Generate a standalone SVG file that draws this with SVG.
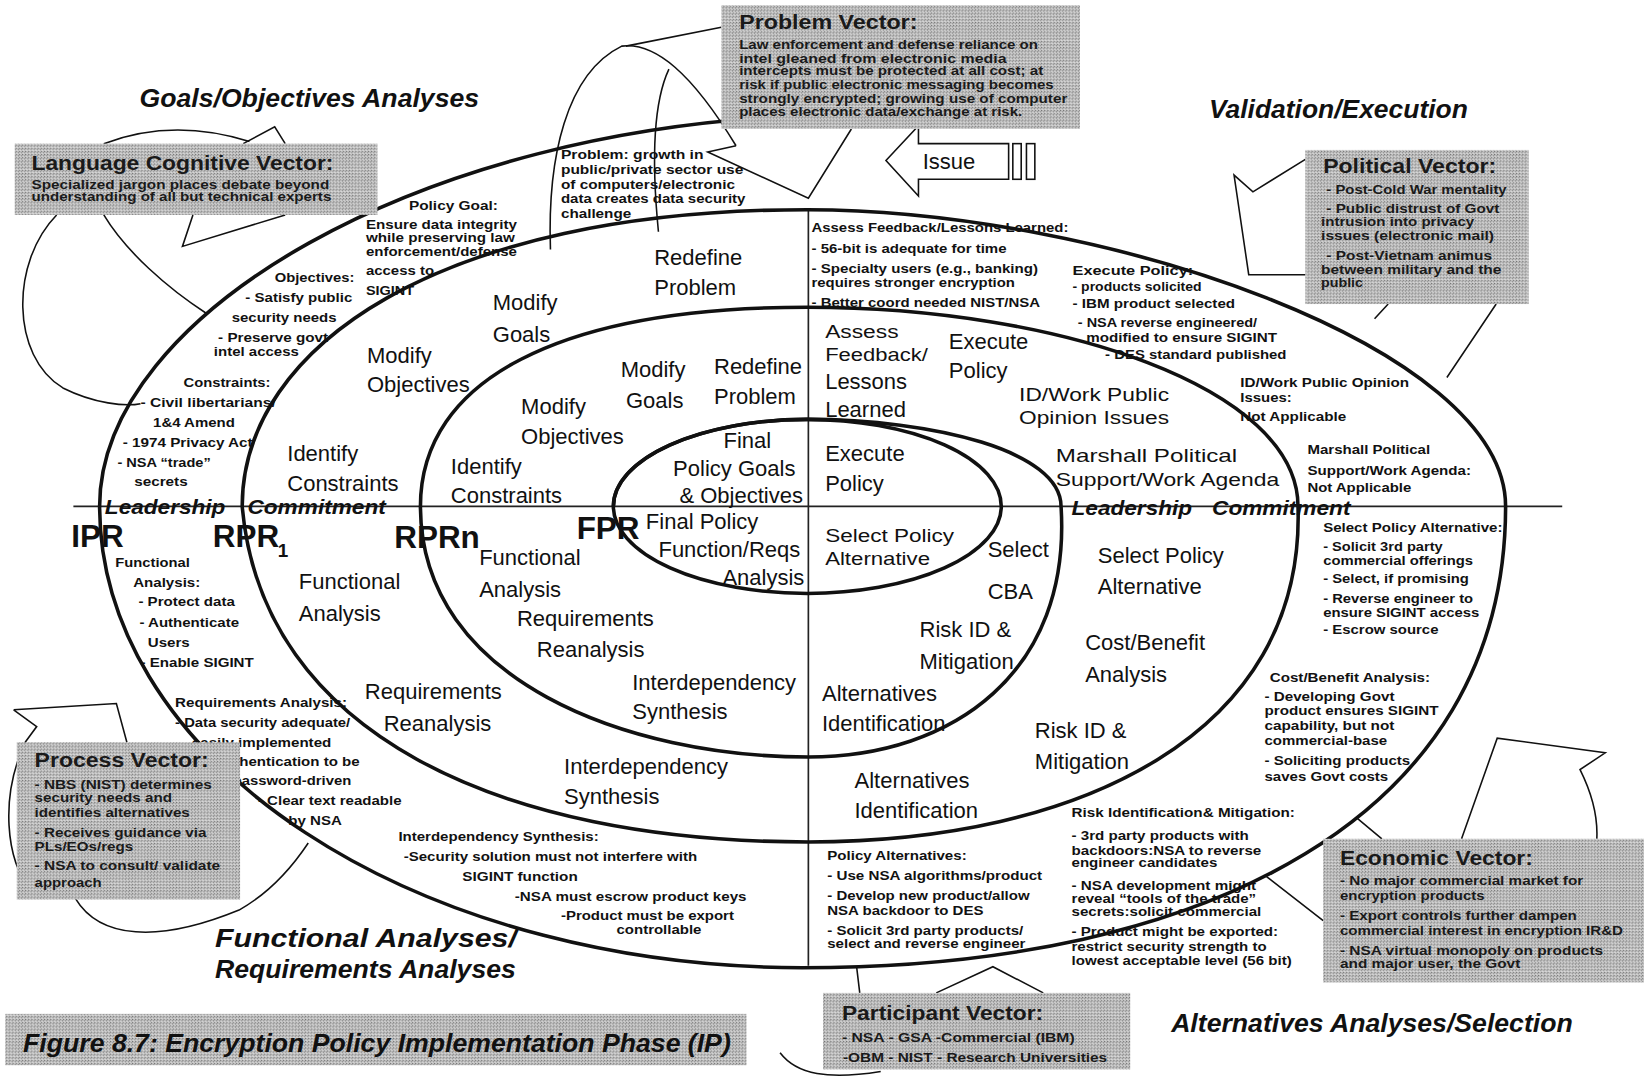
<svg xmlns="http://www.w3.org/2000/svg" width="1644" height="1083" viewBox="0 0 1644 1083">
<defs>
<pattern id="st" width="3" height="3" patternUnits="userSpaceOnUse">
<rect width="3" height="3" fill="#c4c4c4"/>
<rect width="1" height="1" fill="#727272"/>
<rect x="2" y="1" width="1" height="1" fill="#7e7e7e"/>
<rect x="1" y="2" width="1" height="1" fill="#e2e2e2"/>
</pattern>
</defs>
<style>
text{font-family:"Liberation Sans",Arial,Helvetica,sans-serif;fill:#111}
.ti{font-weight:bold;font-style:italic;font-size:25px}
.lc{font-weight:bold;font-style:italic;font-size:20px}
.lb{font-size:21px}
.ls{font-size:18px}
.nt{font-weight:bold;font-size:12.5px}
.vt{font-weight:bold;font-size:20px;fill:#1a1a1a}
.vn{font-weight:bold;font-size:12.5px;fill:#1a1a1a}
.pr{font-weight:bold;font-size:30px}
.sp{fill:none;stroke:#111;stroke-width:3.4}
.ax{fill:none;stroke:#222;stroke-width:1.6}
.co{fill:none;stroke:#111;stroke-width:1.5}
.bx{fill:url(#st)}
</style>
<rect width="1644" height="1083" fill="#fff"/>
<g transform="scale(1.04847)">
<g id="connectors">
<path class="ax" d="M70,483 H1490"/>
<path class="ax" d="M771,200 V921"/>
<path class="sp" d="M95,483 C95,300 400,120 780,110"/>
<path class="sp" d="M231,483 C231,330 420,200 770,200 C1050,200 1436,330 1436,483"/>
<path class="sp" d="M95,483 A670,440 0 0 0 765,923 C1150,923 1436,780 1436,483"/>
<path class="sp" d="M401,483 C401,362 534,293 770,293 C1010,293 1238,370 1238,483"/>
<path class="sp" d="M1238,483 C1245,700 1030,803 771,803 C477,803 250,700 231,483"/>
<path class="sp" d="M585,483 C585,437 668,400 770,400 C890,400 1012,430 1012,483"/>
<path class="sp" d="M1012,483 C1022,640 910,722 771,722 C600,722 401,650 401,483"/>
<ellipse class="sp" cx="770" cy="483" rx="185" ry="83"/>
<path class="co" d="M99,137 Q165,112 238,135 M232,137 L262,121 L272,137"/>
<path class="co" d="M54,205 C10,250 10,340 60,370 C90,385 120,388 134,385"/>
<path class="co" d="M99,205 C120,240 160,275 197,299"/>
<path class="co" d="M184,205 L174,235 L272,205"/>
<path class="co" d="M688,26 L597,44"/>
<path class="co" d="M525,238 C522,150 540,70 593,44 C625,40 660,70 702,139"/>
<path class="co" d="M628,221 C622,160 622,100 638,66"/>
<path class="co" d="M702,139 L675,145 L771,189 L812,123"/>
<path class="co" d="M1245,152 L1195,183 L1177,167 L1191,262 L1245,262"/>
<path class="co" d="M1324,290 L1311,304 M1427,290 L1380,360"/>
<path class="co" d="M13,677 L111,671 L121,708 M13,677 L35,693 L24,708"/>
<path class="co" d="M24,708 C0,760 5,820 30,850"/>
<path class="co" d="M72,857 C95,895 150,900 228,868 C260,850 280,825 294,804"/>
<path class="co" d="M1394,800 L1428,704 L1531,718 L1507,734 C1520,760 1524,780 1523,800"/>
<path class="co" d="M1208,836 L1262,878 M1294,780 L1318,800"/>
<path class="co" d="M817,922 L820,947 M893,947 L947,922 L995,947"/>
<path class="co" d="M744,1004 C760,1025 790,1030 840,1022"/>
<g id="issue-arrow">
<path class="co" fill="#fff" d="M845,153 L876,120 L876,137 L962,137 L962,171 L876,171 L876,187 Z"/>
<rect class="co" x="966" y="137" width="8" height="34"/>
<rect class="co" x="979" y="137" width="8" height="34"/>
<text class="lb" x="880" y="161">Issue</text>
</g>
</g>

<g id="titles">
<text class="ti" x="133" y="102" textLength="324" lengthAdjust="spacingAndGlyphs">Goals/Objectives Analyses</text>
<text class="ti" x="1153" y="113" textLength="247" lengthAdjust="spacingAndGlyphs">Validation/Execution</text>
<text class="ti" x="205" y="903" textLength="288" lengthAdjust="spacingAndGlyphs">Functional Analyses/</text>
<text class="ti" x="205" y="933" textLength="287" lengthAdjust="spacingAndGlyphs">Requirements Analyses</text>
<text class="ti" x="1117" y="984" textLength="383" lengthAdjust="spacingAndGlyphs">Alternatives Analyses/Selection</text>
</g>

<g id="reviews">
<text class="pr" x="68" y="522">IPR</text>
<text class="pr" x="203" y="522">RPR</text>
<text class="pr" x="265" y="531" style="font-size:18px">1</text>
<text class="pr" x="376" y="523">RPRn</text>
<text class="pr" x="550" y="514">FPR</text>
<text class="lc" x="100" y="490" textLength="115" lengthAdjust="spacingAndGlyphs">Leadership</text>
<text class="lc" x="236" y="490" textLength="132" lengthAdjust="spacingAndGlyphs">Commitment</text>
<text class="lc" x="1022" y="491" textLength="115" lengthAdjust="spacingAndGlyphs">Leadership</text>
<text class="lc" x="1156" y="491" textLength="132" lengthAdjust="spacingAndGlyphs">Commitment</text>
</g>

<g id="ring-labels">
<text class="lb" x="624" y="253">Redefine</text><text class="lb" x="624" y="281">Problem</text>
<text class="lb" x="470" y="296">Modify</text><text class="lb" x="470" y="326">Goals</text>
<text class="lb" x="350" y="346">Modify</text><text class="lb" x="350" y="374">Objectives</text>
<text class="lb" x="274" y="440">Identify</text><text class="lb" x="274" y="468">Constraints</text>
<text class="lb" x="592" y="360">Modify</text><text class="lb" x="597" y="389">Goals</text>
<text class="lb" x="681" y="357">Redefine</text><text class="lb" x="681" y="385">Problem</text>
<text class="lb" x="497" y="395">Modify</text><text class="lb" x="497" y="423">Objectives</text>
<text class="lb" x="430" y="452">Identify</text><text class="lb" x="430" y="480">Constraints</text>
<text class="lb" x="690" y="427">Final</text><text class="lb" x="642" y="454">Policy Goals</text><text class="lb" x="648" y="480">&amp; Objectives</text>
<text class="lb" x="616" y="505">Final Policy</text><text class="lb" x="628" y="531">Function/Reqs</text><text class="lb" x="689" y="558">Analysis</text>
<text class="ls" x="787" y="322" textLength="70" lengthAdjust="spacingAndGlyphs">Assess</text><text class="ls" x="787" y="344" textLength="98" lengthAdjust="spacingAndGlyphs">Feedback/</text><text class="lb" x="787" y="371">Lessons</text><text class="lb" x="787" y="398">Learned</text>
<text class="lb" x="905" y="333">Execute</text><text class="lb" x="905" y="361">Policy</text>
<text class="ls" x="972" y="382" textLength="143" lengthAdjust="spacingAndGlyphs">ID/Work Public</text><text class="ls" x="972" y="404" textLength="143" lengthAdjust="spacingAndGlyphs">Opinion Issues</text>
<text class="ls" x="1007" y="441" textLength="173" lengthAdjust="spacingAndGlyphs">Marshall Political</text><text class="ls" x="1007" y="464" textLength="213" lengthAdjust="spacingAndGlyphs">Support/Work Agenda</text>
<text class="lb" x="787" y="440">Execute</text><text class="lb" x="787" y="468">Policy</text>
<text class="ls" x="787" y="517" textLength="123" lengthAdjust="spacingAndGlyphs">Select Policy</text><text class="ls" x="787" y="539" textLength="100" lengthAdjust="spacingAndGlyphs">Alternative</text>
<text class="lb" x="942" y="531">Select</text><text class="lb" x="942" y="571">CBA</text>
<text class="lb" x="1047" y="537">Select Policy</text><text class="lb" x="1047" y="567">Alternative</text>
<text class="lb" x="285" y="562">Functional</text><text class="lb" x="285" y="592">Analysis</text>
<text class="lb" x="457" y="539">Functional</text><text class="lb" x="457" y="569">Analysis</text>
<text class="lb" x="493" y="597">Requirements</text><text class="lb" x="512" y="627">Reanalysis</text>
<text class="lb" x="348" y="667">Requirements</text><text class="lb" x="366" y="697">Reanalysis</text>
<text class="lb" x="603" y="658">Interdependency</text><text class="lb" x="603" y="686">Synthesis</text>
<text class="lb" x="538" y="738">Interdependency</text><text class="lb" x="538" y="767">Synthesis</text>
<text class="lb" x="877" y="608">Risk ID &amp;</text><text class="lb" x="877" y="638">Mitigation</text>
<text class="lb" x="1035" y="620">Cost/Benefit</text><text class="lb" x="1035" y="650">Analysis</text>
<text class="lb" x="784" y="669">Alternatives</text><text class="lb" x="784" y="697">Identification</text>
<text class="lb" x="987" y="704">Risk ID &amp;</text><text class="lb" x="987" y="733">Mitigation</text>
<text class="lb" x="815" y="752">Alternatives</text><text class="lb" x="815" y="780">Identification</text>
</g>

<g id="notes-goals">
<text class="nt" x="390" y="200" textLength="85" lengthAdjust="spacingAndGlyphs">Policy Goal:</text>
<text class="nt" x="349" y="218" textLength="144" lengthAdjust="spacingAndGlyphs">Ensure data integrity</text>
<text class="nt" x="349" y="231" textLength="142" lengthAdjust="spacingAndGlyphs">while preserving law</text>
<text class="nt" x="349" y="244" textLength="144" lengthAdjust="spacingAndGlyphs">enforcement/defense</text>
<text class="nt" x="349" y="262" textLength="65" lengthAdjust="spacingAndGlyphs">access to</text>
<text class="nt" x="349" y="281" textLength="46" lengthAdjust="spacingAndGlyphs">SIGINT</text>
<text class="nt" x="262" y="269" textLength="76" lengthAdjust="spacingAndGlyphs">Objectives:</text>
<text class="nt" x="234" y="288" textLength="102" lengthAdjust="spacingAndGlyphs">- Satisfy public</text>
<text class="nt" x="221" y="307" textLength="100" lengthAdjust="spacingAndGlyphs">security needs</text>
<text class="nt" x="208" y="326" textLength="105" lengthAdjust="spacingAndGlyphs">- Preserve govt</text>
<text class="nt" x="204" y="340" textLength="81" lengthAdjust="spacingAndGlyphs">intel access</text>
<text class="nt" x="175" y="369" textLength="83" lengthAdjust="spacingAndGlyphs">Constraints:</text>
<text class="nt" x="134" y="388" textLength="129" lengthAdjust="spacingAndGlyphs">- Civil libertarians/</text>
<text class="nt" x="146" y="407" textLength="78" lengthAdjust="spacingAndGlyphs">1&amp;4 Amend</text>
<text class="nt" x="117" y="426" textLength="124" lengthAdjust="spacingAndGlyphs">- 1974 Privacy Act</text>
<text class="nt" x="112" y="445" textLength="89" lengthAdjust="spacingAndGlyphs">- NSA “trade”</text>
<text class="nt" x="128" y="464" textLength="51" lengthAdjust="spacingAndGlyphs">secrets</text>
<text class="nt" x="535" y="152" textLength="136" lengthAdjust="spacingAndGlyphs">Problem: growth in</text>
<text class="nt" x="535" y="166" textLength="174" lengthAdjust="spacingAndGlyphs">public/private sector use</text>
<text class="nt" x="535" y="180" textLength="166" lengthAdjust="spacingAndGlyphs">of computers/electronic</text>
<text class="nt" x="535" y="194" textLength="176" lengthAdjust="spacingAndGlyphs">data creates data security</text>
<text class="nt" x="535" y="208" textLength="67" lengthAdjust="spacingAndGlyphs">challenge</text>
</g>

<g id="notes-validation">
<text class="nt" x="774" y="221" textLength="245" lengthAdjust="spacingAndGlyphs">Assess Feedback/Lessons Learned:</text>
<text class="nt" x="774" y="241" textLength="186" lengthAdjust="spacingAndGlyphs">- 56-bit is adequate for time</text>
<text class="nt" x="774" y="260" textLength="216" lengthAdjust="spacingAndGlyphs">- Specialty users (e.g., banking)</text>
<text class="nt" x="774" y="274" textLength="194" lengthAdjust="spacingAndGlyphs">requires stronger encryption</text>
<text class="nt" x="774" y="293" textLength="218" lengthAdjust="spacingAndGlyphs">- Better coord needed NIST/NSA</text>
<text class="nt" x="1023" y="262" textLength="115" lengthAdjust="spacingAndGlyphs">Execute Policy:</text>
<text class="nt" x="1023" y="278" textLength="123" lengthAdjust="spacingAndGlyphs">- products solicited</text>
<text class="nt" x="1023" y="294" textLength="155" lengthAdjust="spacingAndGlyphs">- IBM product selected</text>
<text class="nt" x="1028" y="312" textLength="171" lengthAdjust="spacingAndGlyphs">- NSA reverse engineered/</text>
<text class="nt" x="1036" y="326" textLength="182" lengthAdjust="spacingAndGlyphs">modified to ensure SIGINT</text>
<text class="nt" x="1054" y="342" textLength="173" lengthAdjust="spacingAndGlyphs">- DES standard published</text>
<text class="nt" x="1183" y="369" textLength="161" lengthAdjust="spacingAndGlyphs">ID/Work Public Opinion</text>
<text class="nt" x="1183" y="383" textLength="49" lengthAdjust="spacingAndGlyphs">Issues:</text>
<text class="nt" x="1183" y="402" textLength="101" lengthAdjust="spacingAndGlyphs">Not Applicable</text>
<text class="nt" x="1247" y="433" textLength="117" lengthAdjust="spacingAndGlyphs">Marshall Political</text>
<text class="nt" x="1247" y="453" textLength="156" lengthAdjust="spacingAndGlyphs">Support/Work Agenda:</text>
<text class="nt" x="1247" y="469" textLength="99" lengthAdjust="spacingAndGlyphs">Not Applicable</text>
</g>

<g id="notes-alternatives">
<text class="nt" x="1262" y="507" textLength="171" lengthAdjust="spacingAndGlyphs">Select Policy Alternative:</text>
<text class="nt" x="1262" y="526" textLength="114" lengthAdjust="spacingAndGlyphs">- Solicit 3rd party</text>
<text class="nt" x="1262" y="539" textLength="143" lengthAdjust="spacingAndGlyphs">commercial offerings</text>
<text class="nt" x="1262" y="556" textLength="139" lengthAdjust="spacingAndGlyphs">- Select, if promising</text>
<text class="nt" x="1262" y="575" textLength="143" lengthAdjust="spacingAndGlyphs">- Reverse engineer to</text>
<text class="nt" x="1262" y="588" textLength="149" lengthAdjust="spacingAndGlyphs">ensure SIGINT access</text>
<text class="nt" x="1262" y="605" textLength="110" lengthAdjust="spacingAndGlyphs">- Escrow source</text>
<text class="nt" x="1211" y="650" textLength="153" lengthAdjust="spacingAndGlyphs">Cost/Benefit Analysis:</text>
<text class="nt" x="1206" y="669" textLength="124" lengthAdjust="spacingAndGlyphs">- Developing Govt</text>
<text class="nt" x="1206" y="682" textLength="166" lengthAdjust="spacingAndGlyphs">product ensures SIGINT</text>
<text class="nt" x="1206" y="696" textLength="124" lengthAdjust="spacingAndGlyphs">capability, but not</text>
<text class="nt" x="1206" y="711" textLength="117" lengthAdjust="spacingAndGlyphs">commercial-base</text>
<text class="nt" x="1206" y="730" textLength="139" lengthAdjust="spacingAndGlyphs">- Soliciting products</text>
<text class="nt" x="1206" y="745" textLength="118" lengthAdjust="spacingAndGlyphs">saves Govt costs</text>
<text class="nt" x="1022" y="779" textLength="213" lengthAdjust="spacingAndGlyphs">Risk Identification&amp; Mitigation:</text>
<text class="nt" x="1022" y="801" textLength="169" lengthAdjust="spacingAndGlyphs">- 3rd party products with</text>
<text class="nt" x="1022" y="815" textLength="181" lengthAdjust="spacingAndGlyphs">backdoors:NSA to reverse</text>
<text class="nt" x="1022" y="827" textLength="139" lengthAdjust="spacingAndGlyphs">engineer candidates</text>
<text class="nt" x="1022" y="849" textLength="176" lengthAdjust="spacingAndGlyphs">- NSA development might</text>
<text class="nt" x="1022" y="861" textLength="176" lengthAdjust="spacingAndGlyphs">reveal “tools of the trade”</text>
<text class="nt" x="1022" y="874" textLength="181" lengthAdjust="spacingAndGlyphs">secrets:solicit commercial</text>
<text class="nt" x="1022" y="893" textLength="197" lengthAdjust="spacingAndGlyphs">- Product might be exported:</text>
<text class="nt" x="1022" y="907" textLength="186" lengthAdjust="spacingAndGlyphs">restrict security strength to</text>
<text class="nt" x="1022" y="920" textLength="210" lengthAdjust="spacingAndGlyphs">lowest acceptable level (56 bit)</text>
<text class="nt" x="789" y="820" textLength="133" lengthAdjust="spacingAndGlyphs">Policy Alternatives:</text>
<text class="nt" x="789" y="839" textLength="205" lengthAdjust="spacingAndGlyphs">- Use NSA algorithms/product</text>
<text class="nt" x="789" y="858" textLength="193" lengthAdjust="spacingAndGlyphs">- Develop new product/allow</text>
<text class="nt" x="789" y="873" textLength="149" lengthAdjust="spacingAndGlyphs">NSA backdoor to DES</text>
<text class="nt" x="789" y="892" textLength="187" lengthAdjust="spacingAndGlyphs">- Solicit 3rd party products/</text>
<text class="nt" x="789" y="904" textLength="189" lengthAdjust="spacingAndGlyphs">select and reverse engineer</text>
</g>

<g id="notes-functional">
<text class="nt" x="110" y="541" textLength="71" lengthAdjust="spacingAndGlyphs">Functional</text>
<text class="nt" x="127" y="560" textLength="64" lengthAdjust="spacingAndGlyphs">Analysis:</text>
<text class="nt" x="132" y="578" textLength="92" lengthAdjust="spacingAndGlyphs">- Protect data</text>
<text class="nt" x="133" y="598" textLength="95" lengthAdjust="spacingAndGlyphs">- Authenticate</text>
<text class="nt" x="141" y="617" textLength="40" lengthAdjust="spacingAndGlyphs">Users</text>
<text class="nt" x="134" y="636" textLength="108" lengthAdjust="spacingAndGlyphs">- Enable SIGINT</text>
<text class="nt" x="167" y="674" textLength="164" lengthAdjust="spacingAndGlyphs">Requirements Analysis:</text>
<text class="nt" x="167" y="693" textLength="167" lengthAdjust="spacingAndGlyphs">- Data security adequate/</text>
<text class="nt" x="183" y="712" textLength="133" lengthAdjust="spacingAndGlyphs">easily implemented</text>
<text class="nt" x="196" y="731" textLength="147" lengthAdjust="spacingAndGlyphs">- Authentication to be</text>
<text class="nt" x="222" y="749" textLength="113" lengthAdjust="spacingAndGlyphs">password-driven</text>
<text class="nt" x="246" y="768" textLength="137" lengthAdjust="spacingAndGlyphs">- Clear text readable</text>
<text class="nt" x="275" y="787" textLength="51" lengthAdjust="spacingAndGlyphs">by NSA</text>
<text class="nt" x="380" y="802" textLength="191" lengthAdjust="spacingAndGlyphs">Interdependency Synthesis:</text>
<text class="nt" x="385" y="821" textLength="280" lengthAdjust="spacingAndGlyphs">-Security solution must not interfere with</text>
<text class="nt" x="441" y="840" textLength="110" lengthAdjust="spacingAndGlyphs">SIGINT function</text>
<text class="nt" x="491" y="859" textLength="221" lengthAdjust="spacingAndGlyphs">-NSA must escrow product keys</text>
<text class="nt" x="535" y="877" textLength="165" lengthAdjust="spacingAndGlyphs">-Product must be export</text>
<text class="nt" x="588" y="891" textLength="81" lengthAdjust="spacingAndGlyphs">controllable</text>
</g>

<g id="language-vector">
<rect class="bx" x="14" y="137" width="346" height="68"/>
<text class="vt" x="30" y="162" textLength="288" lengthAdjust="spacingAndGlyphs">Language Cognitive Vector:</text>
<text class="vn" x="30" y="180" textLength="284" lengthAdjust="spacingAndGlyphs">Specialized jargon places debate beyond</text>
<text class="vn" x="30" y="192" textLength="286" lengthAdjust="spacingAndGlyphs">understanding of all but technical experts</text>
</g>

<g id="problem-vector">
<rect class="bx" x="688" y="5" width="342" height="118"/>
<text class="vt" x="705" y="28" textLength="170" lengthAdjust="spacingAndGlyphs">Problem Vector:</text>
<text class="vn" x="705" y="47" textLength="285" lengthAdjust="spacingAndGlyphs">Law enforcement and defense reliance on</text>
<text class="vn" x="705" y="60" textLength="255" lengthAdjust="spacingAndGlyphs">intel gleaned from electronic media</text>
<text class="vn" x="705" y="72" textLength="290" lengthAdjust="spacingAndGlyphs">intercepts must be protected at all cost; at</text>
<text class="vn" x="705" y="85" textLength="300" lengthAdjust="spacingAndGlyphs">risk if public electronic messaging becomes</text>
<text class="vn" x="705" y="98" textLength="313" lengthAdjust="spacingAndGlyphs">strongly encrypted; growing use of computer</text>
<text class="vn" x="705" y="111" textLength="270" lengthAdjust="spacingAndGlyphs">places electronic data/exchange at risk.</text>
</g>

<g id="political-vector">
<rect class="bx" x="1245" y="143" width="213" height="147"/>
<text class="vt" x="1262" y="165" textLength="165" lengthAdjust="spacingAndGlyphs">Political Vector:</text>
<text class="vn" x="1265" y="185" textLength="172" lengthAdjust="spacingAndGlyphs">- Post-Cold War mentality</text>
<text class="vn" x="1265" y="203" textLength="165" lengthAdjust="spacingAndGlyphs">- Public distrust of Govt</text>
<text class="vn" x="1260" y="216" textLength="146" lengthAdjust="spacingAndGlyphs">intrusion into privacy</text>
<text class="vn" x="1260" y="229" textLength="165" lengthAdjust="spacingAndGlyphs">issues (electronic mail)</text>
<text class="vn" x="1265" y="248" textLength="158" lengthAdjust="spacingAndGlyphs">- Post-Vietnam animus</text>
<text class="vn" x="1260" y="261" textLength="172" lengthAdjust="spacingAndGlyphs">between military and the</text>
<text class="vn" x="1260" y="274" textLength="40" lengthAdjust="spacingAndGlyphs">public</text>
</g>

<g id="process-vector">
<rect class="bx" x="16" y="708" width="213" height="150"/>
<text class="vt" x="33" y="732" textLength="166" lengthAdjust="spacingAndGlyphs">Process Vector:</text>
<text class="vn" x="33" y="753" textLength="169" lengthAdjust="spacingAndGlyphs">- NBS (NIST) determines</text>
<text class="vn" x="33" y="765" textLength="131" lengthAdjust="spacingAndGlyphs">security needs and</text>
<text class="vn" x="33" y="779" textLength="148" lengthAdjust="spacingAndGlyphs">identifies alternatives</text>
<text class="vn" x="33" y="798" textLength="164" lengthAdjust="spacingAndGlyphs">- Receives guidance via</text>
<text class="vn" x="33" y="812" textLength="94" lengthAdjust="spacingAndGlyphs">PLs/EOs/regs</text>
<text class="vn" x="33" y="830" textLength="177" lengthAdjust="spacingAndGlyphs">- NSA to consult/ validate</text>
<text class="vn" x="33" y="846" textLength="64" lengthAdjust="spacingAndGlyphs">approach</text>
</g>

<g id="economic-vector">
<rect class="bx" x="1262" y="800" width="306" height="137"/>
<text class="vt" x="1278" y="825" textLength="184" lengthAdjust="spacingAndGlyphs">Economic Vector:</text>
<text class="vn" x="1278" y="844" textLength="232" lengthAdjust="spacingAndGlyphs">- No major commercial market for</text>
<text class="vn" x="1278" y="858" textLength="138" lengthAdjust="spacingAndGlyphs">encryption products</text>
<text class="vn" x="1278" y="877" textLength="226" lengthAdjust="spacingAndGlyphs">- Export controls further dampen</text>
<text class="vn" x="1278" y="892" textLength="270" lengthAdjust="spacingAndGlyphs">commercial interest in encryption IR&amp;D</text>
<text class="vn" x="1278" y="911" textLength="251" lengthAdjust="spacingAndGlyphs">- NSA virtual monopoly on products</text>
<text class="vn" x="1278" y="923" textLength="172" lengthAdjust="spacingAndGlyphs">and major user, the Govt</text>
</g>

<g id="participant-vector">
<rect class="bx" x="785" y="947" width="293" height="73"/>
<text class="vt" x="803" y="973" textLength="192" lengthAdjust="spacingAndGlyphs">Participant Vector:</text>
<text class="vn" x="803" y="994" textLength="222" lengthAdjust="spacingAndGlyphs">- NSA  - GSA  -Commercial (IBM)</text>
<text class="vn" x="804" y="1013" textLength="252" lengthAdjust="spacingAndGlyphs">-OBM  - NIST  - Research Universities</text>
</g>

<g id="caption">
<rect class="bx" x="5" y="967" width="707" height="49"/>
<text class="ti" x="22" y="1003" style="font-size:24px" textLength="675" lengthAdjust="spacingAndGlyphs">Figure 8.7: Encryption Policy Implementation Phase (IP)</text>
</g>
</g>
</svg>
